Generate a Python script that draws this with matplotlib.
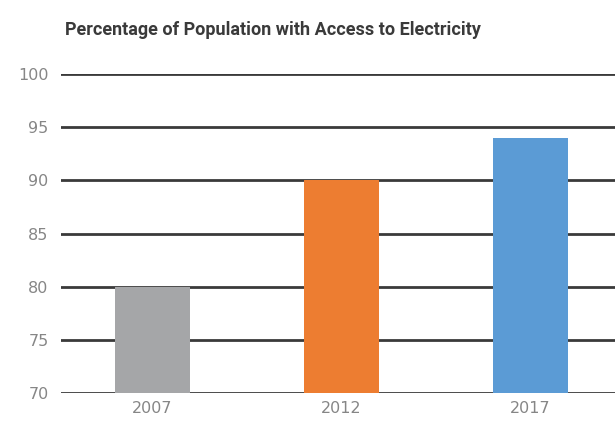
import matplotlib
matplotlib.use("Agg")
import matplotlib.pyplot as plt

years = ["2007", "2012", "2017"]
values = [80, 90, 94]
colors = ["#A5A6A8", "#ED7D31", "#5B9BD5"]
yticks = [70, 75, 80, 85, 90, 95, 100]

fig = plt.figure(figsize=(6.15, 4.25), dpi=100)
ax = fig.add_axes([61/615, 32/425, 1 - 61/615, (393-74)/425])
x = list(range(len(years)))
ax.bar(x, values, width=0.4, color=colors, zorder=3)
ax.set_ylim(70, 100)
ax.set_xlim(-0.484, 2.447)
ax.set_yticks(yticks)
ax.set_xticks(x)
ax.set_xticklabels(years)
for yv in yticks:
    ax.axhline(yv, color="#3a3a3a", lw=2.0, zorder=1)
for s in ax.spines.values():
    s.set_visible(False)
ax.tick_params(length=0, labelsize=11.5, labelcolor="#868686", pad=9)
ax.tick_params(axis="x", pad=6)
for lab in ax.get_xticklabels() + ax.get_yticklabels():
    lab.set_family("DejaVu Sans")
fig.text(273/615, 1 - 30/425, "Percentage of Population with Access to Electricity",
         ha="center", va="center", fontsize=13, fontweight="bold", family="Roboto", color="#3a3a3a")
fig.savefig("out.png", dpi=100)
